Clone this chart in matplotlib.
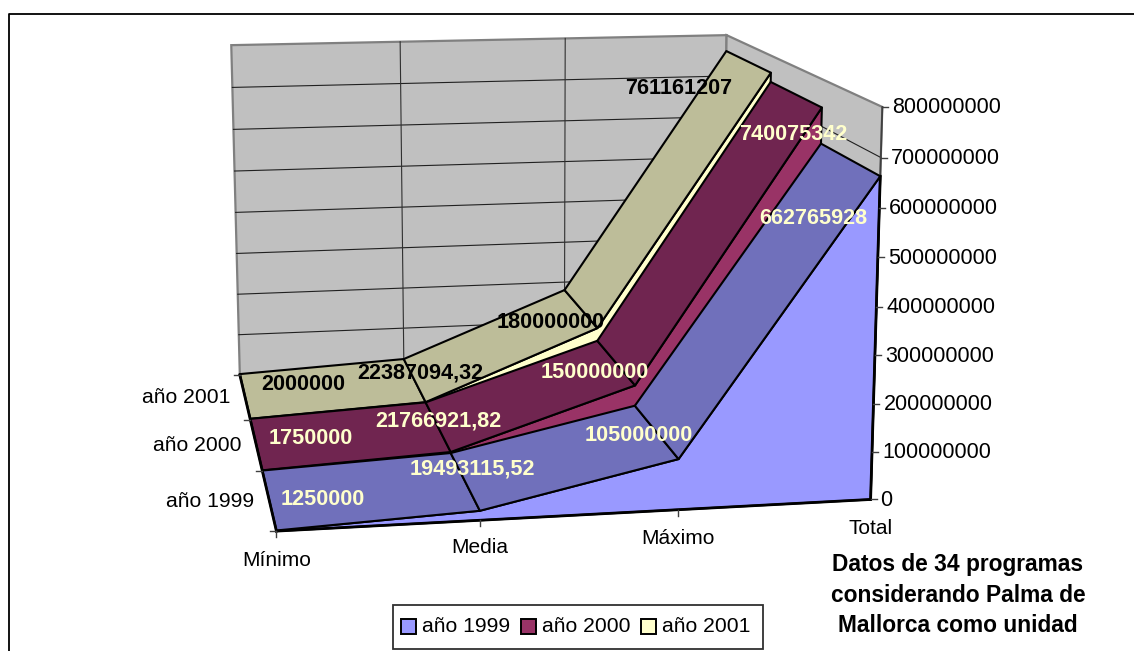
import numpy as np
import matplotlib
matplotlib.use('Agg')
import matplotlib.pyplot as plt
from matplotlib.patches import Polygon, Rectangle

plt.rcParams['font.family'] = ['Liberation Sans', 'DejaVu Sans']

categories = ['Mínimo', 'Media', 'Máximo', 'Total']
series_names = ['año 1999', 'año 2000', 'año 2001']
values_1999 = [1250000, 19493115.52, 105000000, 662765928]
values_2000 = [1750000, 21766921.82, 150000000, 740075342]
values_2001 = [2000000, 22387094.32, 180000000, 761161207]
labels_1999 = ['1250000', '19493115,52', '105000000', '662765928']
labels_2000 = ['1750000', '21766921,82', '150000000', '740075342']
labels_2001 = ['2000000', '22387094,32', '180000000', '761161207']
value_ticks = [0, 100000000, 200000000, 300000000, 400000000,
               500000000, 600000000, 700000000, 800000000]

front_colors = ['#9999FF', '#993366', '#FFFFCC']
top_colors = ['#7070BB', '#702550', '#BDBD99']
label_colors = ['#FFFFCC', '#FFFFCC', '#000000']

# where the box corners land in the picture, used to fit the perspective
calib_3d = [(0, 0, 0), (1, 0, 0), (2, 0, 0), (3, 0, 0), (3, 800, 0),
            (0, 800, 3), (3, 800, 3), (0, 0, 3), (1, 22.4, 3), (2, 180, 3),
            (3, 761.2, 3), (0, 1.75, 2), (1, 22.4, 2), (2, 180, 2), (3, 761.2, 2),
            (1, 19.5, 1), (2, 105, 1), (3, 662.8, 1), (2, 150, 1), (3, 740, 1),
            (1, 19.5, 0), (2, 105, 0), (3, 662.8, 0)]
calib_px = [(277, 531), (479, 522), (677, 509), (871, 499), (883, 107),
            (231, 45), (727, 35), (239, 375), (403, 359), (565, 289),
            (727, 52), (252, 418), (425, 402), (597, 329), (771, 73),
            (452, 453), (635, 406), (820, 144), (635, 386), (821, 107),
            (479, 511), (680, 459), (880, 175)]


def fitProjection(pts3d, pts2d):
    rows = []
    for (x, y, z), (u, v) in zip(pts3d, pts2d):
        rows.append([x, y, z, 1, 0, 0, 0, 0, -u*x, -u*y, -u*z, -u])
        rows.append([0, 0, 0, 0, x, y, z, 1, -v*x, -v*y, -v*z, -v])
    _, _, vt = np.linalg.svd(np.array(rows, dtype=float))
    return vt[-1].reshape(3, 4)


P = fitProjection(calib_3d, calib_px)


def proj(cat, val, depth):
    # val in units, scaled to millions like the calibration
    h = P @ np.array([cat, val/1e6, depth, 1.0])
    return h[0]/h[2], h[1]/h[2]


fig = plt.figure(figsize=(11.34, 6.51), dpi=100)
ax = fig.add_axes([0, 0, 1, 1])
ax.set_xlim(0, 1134)
ax.set_ylim(651, 0)
ax.axis('off')

# chart frame, the right and bottom sides fall outside the picture
ax.plot([9, 9, 1134], [651, 14, 14], color='black', lw=1.3, zorder=1)

# walls
top = value_ticks[-1]
back = [proj(0, 0, 3), proj(3, 0, 3), proj(3, top, 3), proj(0, top, 3)]
side = [proj(3, 0, 3), proj(3, 0, 0), proj(3, top, 0), proj(3, top, 3)]
ax.add_patch(Polygon(back, fc='#C0C0C0', ec='#808080', lw=1.6, zorder=2))
ax.add_patch(Polygon(side, fc='#C0C0C0', ec='#808080', lw=1.6, zorder=2))

for v in value_ticks[1:-1]:
    pts = [proj(0, v, 3), proj(3, v, 3), proj(3, v, 0)]
    ax.plot(*zip(*pts), color='#202020', lw=0.8, zorder=3)
for c in [1, 2]:
    pts = [proj(c, 0, 3), proj(c, top, 3)]
    ax.plot(*zip(*pts), color='#303030', lw=0.8, zorder=3)

# areas from the back to the front
all_values = [values_1999, values_2000, values_2001]
z = 10
for s in [2, 1, 0]:
    vals = all_values[s]
    front = [proj(i, vals[i], s) for i in range(4)]
    rear = [proj(i, vals[i], s+1) for i in range(4)]
    base = [proj(3, 0, s), proj(0, 0, s)]
    ax.add_patch(Polygon(front + base, fc=front_colors[s], ec='black', lw=1.5,
                         joinstyle='round', zorder=z))
    z += 1
    for i in range(3):
        quad = [front[i], front[i+1], rear[i+1], rear[i]]
        ax.add_patch(Polygon(quad, fc=top_colors[s], ec='black', lw=1.5,
                             joinstyle='round', zorder=z))
    z += 1

# value axis
ax.plot(*zip(*[proj(3, 0, 0), proj(3, top, 0)]), color='#404040', lw=1.3, zorder=z)
ax.plot(*zip(*[proj(3, 0, 0), proj(3, values_1999[3], 0)]), color='black', lw=2.0, zorder=z)
ax.plot(*zip(*[proj(0, 0, 0), proj(3, 0, 0)]), color='black', lw=2.0, zorder=z)
ax.plot(*zip(*[proj(0, 0, 0), proj(0, 0, 3)]), color='black', lw=2.0, zorder=z)

for v in value_ticks:
    x, y = proj(3, v, 0)
    ax.plot([x, x+6], [y, y], color='#404040', lw=1.0, zorder=z)
    ax.text(x+10, y+1, str(v), ha='left', va='center', fontsize=15.5, color='black', zorder=z)

# category axis
cat_label_y = [29, 27, 29, 29]
for i, name in enumerate(categories):
    x, y = proj(i, 0, 0)
    if i < 3:
        ax.plot([x, x], [y, y+6], color='#404040', lw=1.0, zorder=z)
    ax.text(x, y+cat_label_y[i], name, ha='center', va='center', fontsize=15, zorder=z)

# depth axis
for d in [0, 1, 2, 3]:
    x, y = proj(0, 0, d)
    ax.plot([x-6, x], [y, y], color='#404040', lw=1.0, zorder=z)
for d, name in enumerate(series_names):
    x, y = proj(0, 0, d+0.5)
    ax.text(x-15, y+1.5, name, ha='right', va='center', fontsize=15.2, zorder=z)

# data labels
label_spots = [[(323, 499.5), (472, 469.5), (639, 435.5), (813, 218.5)],
               [(311, 438.5), (438, 420.5), (595, 372), (793, 134.5)],
               [(303, 384.5), (420, 372.5), (551, 322), (679, 88)]]
all_labels = [labels_1999, labels_2000, labels_2001]
for s in range(3):
    for i in range(4):
        x, y = label_spots[s][i]
        ax.text(x, y, all_labels[s][i], ha='center', va='center', fontsize=15.6,
                fontweight='bold', color=label_colors[s], zorder=z+1)

# note
note = ['Datos de 34 programas', 'considerando Palma de', 'Mallorca como unidad']
for line, y in zip(note, [564, 595, 625]):
    ax.text(958, y, line, ha='center', va='center', fontsize=16.4, fontweight='bold', zorder=z)

# legend
ax.add_patch(Rectangle((393, 605), 370, 44, fc='white', ec='#303030', lw=1.3, zorder=z))
for name, col, bx in zip(series_names, front_colors, [400.5, 521, 641]):
    ax.add_patch(Rectangle((bx, 619), 15, 15, fc=col, ec='black', lw=1.4, zorder=z+1))
    ax.text(bx+21, 626, name, ha='left', va='center', fontsize=15.2, zorder=z+1)

fig.savefig('out.png', dpi=100)
